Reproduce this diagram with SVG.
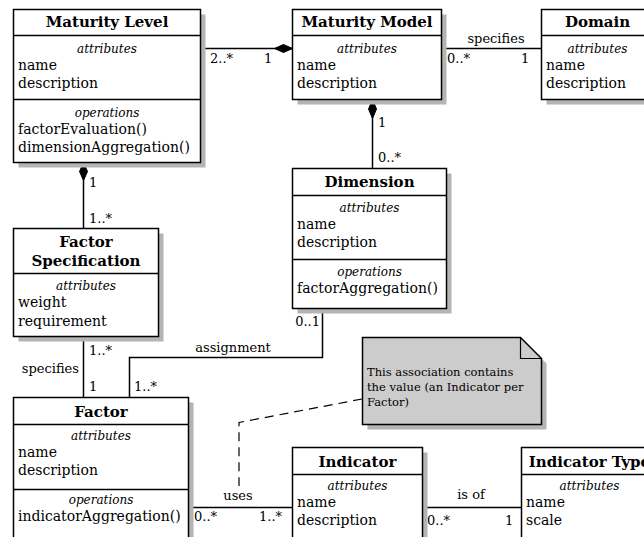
<svg xmlns="http://www.w3.org/2000/svg" width="644" height="537" viewBox="0 0 644 537">
<style>
text{font-family:"DejaVu Serif","Liberation Serif",serif;fill:#000}
.t{font-size:15px;font-weight:bold;text-anchor:middle}
.s{font-size:12px;font-style:italic;text-anchor:middle}
.b{font-size:14px}
.m{font-size:13px}
.c{text-anchor:middle}
.n{font-size:11.5px}
.box{fill:#fff;stroke:#000;stroke-width:1.5}
.sh{fill:#b4b4b4}
.sep{stroke:#000;stroke-width:1.5}
.ln{fill:none;stroke:#000;stroke-width:1.5}
.dash{fill:none;stroke:#000;stroke-width:1.2;stroke-dasharray:9,6}
.dia{fill:#000;stroke:#000;stroke-width:1}
</style>
<rect width="644" height="537" fill="#fff"/>

<g id="connectors">
  <line class="ln" x1="200.5" y1="48.5" x2="292.5" y2="48.5"/>
  <polygon class="dia" points="292.5,48.5 283.5,44.5 274.5,48.5 283.5,52.5"/>
  <text class="m" x="210" y="63">2..*</text>
  <text class="m" x="264" y="63">1</text>

  <line class="ln" x1="442" y1="48.5" x2="541.5" y2="48.5"/>
  <text class="m c" x="496" y="43">specifies</text>
  <text class="m" x="447" y="63">0..*</text>
  <text class="m" x="521" y="63">1</text>

  <line class="ln" x1="372.5" y1="99.5" x2="372.5" y2="168.5"/>
  <polygon class="dia" points="372.5,99.5 376.5,109 372.5,118.5 368.5,109"/>
  <text class="m" x="378" y="127">1</text>
  <text class="m" x="378" y="162">0..*</text>

  <line class="ln" x1="83.5" y1="162.5" x2="83.5" y2="228.5"/>
  <polygon class="dia" points="83.5,162.5 87.5,171.5 83.5,180.5 79.5,171.5"/>
  <text class="m" x="89" y="187">1</text>
  <text class="m" x="89" y="223">1..*</text>

  <line class="ln" x1="83.5" y1="336.5" x2="83.5" y2="397.5"/>
  <text class="m" x="89" y="355">1..*</text>
  <text class="m" x="79" y="373" text-anchor="end">specifies</text>
  <text class="m" x="89" y="391">1</text>

  <polyline class="ln" points="322.5,308.5 322.5,357.5 129.5,357.5 129.5,397.5"/>
  <text class="m c" x="233" y="352">assignment</text>
  <text class="m" x="320" y="326" text-anchor="end">0..1</text>
  <text class="m" x="134" y="391">1..*</text>

  <line class="ln" x1="188.5" y1="507.5" x2="292.5" y2="507.5"/>
  <text class="m c" x="238" y="500">uses</text>
  <text class="m" x="194" y="521">0..*</text>
  <text class="m" x="259" y="521">1..*</text>

  <line class="ln" x1="422.5" y1="507.5" x2="521.5" y2="507.5"/>
  <text class="m c" x="471" y="499">is of</text>
  <text class="m" x="427" y="525">0..*</text>
  <text class="m" x="505" y="525">1</text>

  <polyline class="dash" points="362,399 239,422.5 239,486"/>
</g>

<g id="maturity-level">
  <rect class="sh" x="18.5" y="14.5" width="187" height="153"/>
  <rect class="box" x="13.5" y="9.5" width="187" height="153"/>
  <line class="sep" x1="13.5" y1="35.5" x2="200.5" y2="35.5"/>
  <line class="sep" x1="13.5" y1="99.5" x2="200.5" y2="99.5"/>
  <text class="t" x="107" y="27">Maturity Level</text>
  <text class="s" x="107" y="53">attributes</text>
  <text class="b" x="18" y="70">name</text>
  <text class="b" x="18" y="88">description</text>
  <text class="s" x="107" y="117">operations</text>
  <text class="b" x="18" y="134">factorEvaluation()</text>
  <text class="b" x="18" y="152">dimensionAggregation()</text>
</g>

<g id="maturity-model">
  <rect class="sh" x="297.5" y="14.5" width="149" height="90"/>
  <rect class="box" x="292.5" y="9.5" width="149" height="90"/>
  <line class="sep" x1="292.5" y1="35.5" x2="441.5" y2="35.5"/>
  <text class="t" x="367" y="27">Maturity Model</text>
  <text class="s" x="367" y="53">attributes</text>
  <text class="b" x="297" y="70">name</text>
  <text class="b" x="297" y="88">description</text>
</g>

<g id="domain">
  <rect class="sh" x="546.5" y="14.5" width="112" height="90"/>
  <rect class="box" x="541.5" y="9.5" width="112" height="90"/>
  <line class="sep" x1="541.5" y1="35.5" x2="653.5" y2="35.5"/>
  <text class="t" x="597.5" y="27">Domain</text>
  <text class="s" x="597.5" y="53">attributes</text>
  <text class="b" x="546" y="70">name</text>
  <text class="b" x="546" y="88">description</text>
</g>

<g id="dimension">
  <rect class="sh" x="297.5" y="173.5" width="154" height="140"/>
  <rect class="box" x="292.5" y="168.5" width="154" height="140"/>
  <line class="sep" x1="292.5" y1="195.5" x2="446.5" y2="195.5"/>
  <line class="sep" x1="292.5" y1="259.5" x2="446.5" y2="259.5"/>
  <text class="t" x="369.5" y="187">Dimension</text>
  <text class="s" x="369.5" y="212">attributes</text>
  <text class="b" x="297" y="229">name</text>
  <text class="b" x="297" y="247">description</text>
  <text class="s" x="369.5" y="276">operations</text>
  <text class="b" x="297" y="293">factorAggregation()</text>
</g>

<g id="factor-specification">
  <rect class="sh" x="18.5" y="233.5" width="145" height="108"/>
  <rect class="box" x="13.5" y="228.5" width="145" height="108"/>
  <line class="sep" x1="13.5" y1="273.5" x2="158.5" y2="273.5"/>
  <text class="t" x="86" y="247">Factor</text>
  <text class="t" x="86" y="266">Specification</text>
  <text class="s" x="86" y="289.5">attributes</text>
  <text class="b" x="18" y="307">weight</text>
  <text class="b" x="18" y="326">requirement</text>
</g>

<g id="factor">
  <rect class="sh" x="18.5" y="402.5" width="175" height="150"/>
  <rect class="box" x="13.5" y="397.5" width="175" height="150"/>
  <line class="sep" x1="13.5" y1="424.5" x2="188.5" y2="424.5"/>
  <line class="sep" x1="13.5" y1="489.5" x2="188.5" y2="489.5"/>
  <text class="t" x="101" y="417">Factor</text>
  <text class="s" x="101" y="440">attributes</text>
  <text class="b" x="18" y="457">name</text>
  <text class="b" x="18" y="475">description</text>
  <text class="s" x="101" y="504">operations</text>
  <text class="b" x="18" y="521">indicatorAggregation()</text>
</g>

<g id="note">
  <polygon class="sh" points="367.5,342.5 525.5,342.5 546.5,363.5 546.5,429.5 367.5,429.5"/>
  <polygon points="362.5,337.5 520.5,337.5 541.5,358.5 541.5,424.5 362.5,424.5" fill="#cccccc" stroke="#000" stroke-width="1.5"/>
  <polyline points="520.5,337.5 520.5,358.5 541.5,358.5" fill="none" stroke="#000" stroke-width="1.2"/>
  <text class="n" x="367" y="376">This association contains</text>
  <text class="n" x="367" y="391">the value (an Indicator per</text>
  <text class="n" x="367" y="406">Factor)</text>
</g>

<g id="indicator">
  <rect class="sh" x="297.5" y="452.5" width="130" height="120"/>
  <rect class="box" x="292.5" y="447.5" width="130" height="120"/>
  <line class="sep" x1="292.5" y1="474.5" x2="422.5" y2="474.5"/>
  <text class="t" x="357.5" y="467">Indicator</text>
  <text class="s" x="357.5" y="490">attributes</text>
  <text class="b" x="297" y="507">name</text>
  <text class="b" x="297" y="525">description</text>
</g>

<g id="indicator-type">
  <rect class="sh" x="526.5" y="452.5" width="136" height="120"/>
  <rect class="box" x="521.5" y="447.5" width="136" height="120"/>
  <line class="sep" x1="521.5" y1="474.5" x2="657.5" y2="474.5"/>
  <text class="t" x="589.5" y="467">Indicator Type</text>
  <text class="s" x="589.5" y="490">attributes</text>
  <text class="b" x="526" y="507">name</text>
  <text class="b" x="526" y="525">scale</text>
</g>
</svg>
